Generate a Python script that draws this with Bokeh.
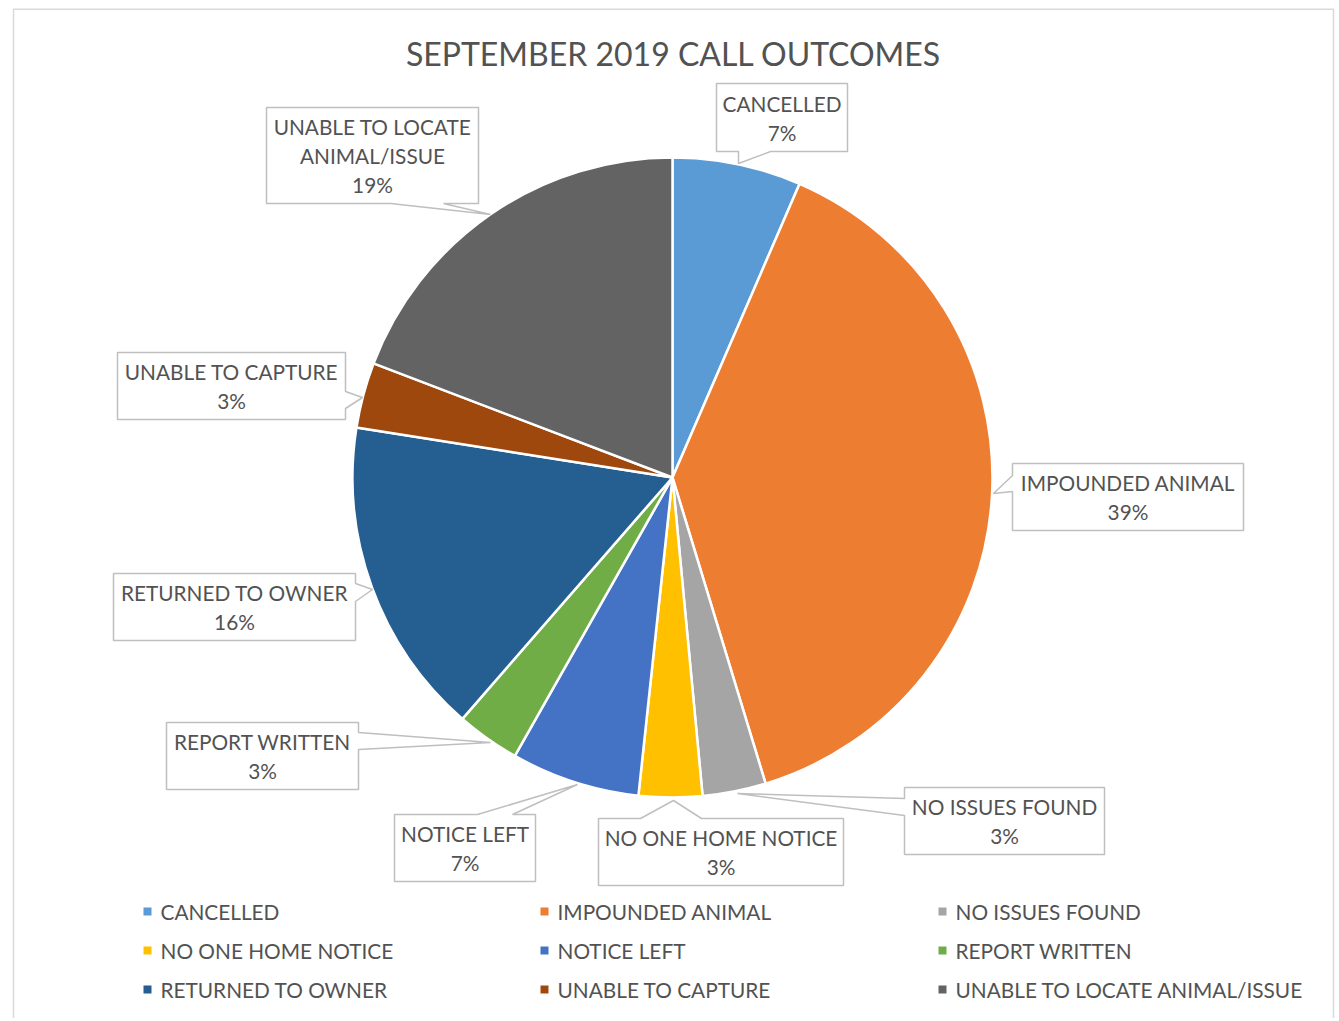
import math
from bokeh.plotting import figure
from bokeh.models import Range1d, ColumnDataSource
from bokeh.core.properties import value
from bokeh.embed import file_html
from bokeh.resources import INLINE

# ---------------- data ----------------
title = "SEPTEMBER 2019 CALL OUTCOMES"
categories = ["CANCELLED", "IMPOUNDED ANIMAL", "NO ISSUES FOUND", "NO ONE HOME NOTICE",
              "NOTICE LEFT", "REPORT WRITTEN", "RETURNED TO OWNER", "UNABLE TO CAPTURE",
              "UNABLE TO LOCATE ANIMAL/ISSUE"]
share_pct = [6.5, 38.8, 3.2, 3.2, 6.5, 3.2, 16.1, 3.3, 19.2]
pct_labels = ["7%", "39%", "3%", "3%", "7%", "3%", "16%", "3%", "19%"]
colors = ["#5B9BD5", "#ED7D31", "#A5A5A5", "#FFC000", "#4472C4", "#70AD47",
          "#255E91", "#9E480E", "#636363"]

# ---------------- layout (pixel positions in page coordinates) ----------------
W, H = 1336, 1018
CX, CY, R = 672, 477, 320
FONT = "Lato"
TXT = "#525252"
LBL_SIZE = "20.8px"
# callout boxes: left, top, right, bottom, side of pointer, base1, base2, tip(x, y)
callouts = [
    (716, 83, 847, 151, "bottom", 738, 770, (738, 163)),
    (1012, 463, 1243, 530, "left", 475, 491, (993, 493)),
    (904, 787, 1104, 854, "left", 798, 815, (737, 793)),
    (598, 818, 843, 885, "top", 640, 701, (673, 800)),
    (394, 814, 535, 881, "top", 477, 512, (577, 784)),
    (166, 722, 358, 789, "right", 732, 749, (490, 742)),
    (113, 573, 355, 640, "right", 583, 601, (372, 589)),
    (117, 352, 345, 419, "right", 391, 408, (362, 397)),
    (266, 107, 478, 203, "bottom", 390, 443, (490, 214)),
]
legend_cols_x = [147, 544, 942]
legend_rows_y = [911, 950, 989]
LINE_GAP = 29


def Y(iy):
    return -iy


p = figure(width=W, height=H, x_range=Range1d(0, W), y_range=Range1d(-H, 0),
           output_backend="svg", toolbar_location=None, min_border=0)
p.axis.visible = False
p.grid.visible = False
p.outline_line_color = None
p.background_fill_color = "white"
p.border_fill_color = "white"

# chart-area border
p.line(x=[13, 13, 1333, 1333], y=[Y(1040), Y(8.8), Y(8.8), Y(1040)],
       line_color="#D9D9D9", line_width=1.5)

# ---------------- pie ----------------
total = sum(share_pct)
starts, ends = [], []
cum = 0.0
for v in share_pct:
    a0 = cum / total * 2 * math.pi
    cum += v
    a1 = cum / total * 2 * math.pi
    starts.append(math.pi / 2 - a1)
    ends.append(math.pi / 2 - a0)
src = ColumnDataSource(dict(start=starts, end=ends, color=colors, cat=categories))
p.wedge(x=CX, y=Y(CY), radius=R, start_angle="start", end_angle="end",
        fill_color="color", line_color="white", line_width=2.5, source=src)

# ---------------- callouts ----------------
xs, ys = [], []
for (l, t, r, b, side, b1, b2, tip) in callouts:
    if side == "bottom":
        pts = [(l, t), (r, t), (r, b), (b2, b), tip, (b1, b), (l, b)]
    elif side == "top":
        pts = [(l, t), (b1, t), tip, (b2, t), (r, t), (r, b), (l, b)]
    elif side == "right":
        pts = [(l, t), (r, t), (r, b1), tip, (r, b2), (r, b), (l, b)]
    else:
        pts = [(l, t), (r, t), (r, b), (l, b), (l, b2), tip, (l, b1)]
    xs.append([q[0] for q in pts])
    ys.append([Y(q[1]) for q in pts])
p.patches(xs=xs, ys=ys, fill_color="white", line_color="#BFBFBF", line_width=1.5)

tx, ty, tt = [], [], []
for i, c in enumerate(categories):
    l, t, r, b = callouts[i][:4]
    lines = c.replace("LOCATE ", "LOCATE\n").split("\n") + [pct_labels[i]]
    cxb = (l + r) / 2
    cyb = (t + b) / 2
    n = len(lines)
    for k, s in enumerate(lines):
        tx.append(cxb)
        ty.append(Y(cyb + (k - (n - 1) / 2) * LINE_GAP))
        tt.append(s)
p.text(x=tx, y=ty, text=tt, text_font=value(FONT), text_font_size=LBL_SIZE,
       text_color=TXT, text_align="center", text_baseline="middle")

# ---------------- title ----------------
p.text(x=[673], y=[Y(53)], text=[title], text_font=value(FONT), text_font_size="32px",
       text_color=TXT, text_align="center", text_baseline="middle")

# ---------------- legend ----------------
lx, ly, lt, mx, my = [], [], [], [], []
for i, c in enumerate(categories):
    col, row = i % 3, i // 3
    mx.append(legend_cols_x[col])
    my.append(Y(legend_rows_y[row]))
    lx.append(legend_cols_x[col] + 13)
    ly.append(Y(legend_rows_y[row]))
    lt.append(c)
p.scatter(x=mx, y=my, marker="square", size=8, fill_color=colors, line_color=None)
p.text(x=lx, y=ly, text=lt, text_font=value(FONT), text_font_size=LBL_SIZE,
       text_color=TXT, text_align="left", text_baseline="middle")

open("out.html", "w").write(file_html(p, INLINE))
